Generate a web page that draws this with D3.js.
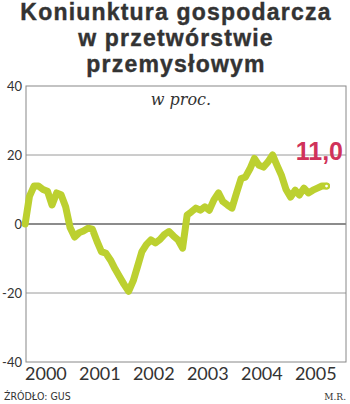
<!DOCTYPE html>
<html>
<head>
<meta charset="utf-8">
<script src="https://cdn.jsdelivr.net/npm/d3@7"></script>
<style>
  body { margin: 0; background: #fff; }
  svg { display: block; }
</style>
</head>
<body>
<div id="chart"></div>
<script>
const width = 350;
const height = 404;
const margin = { left: 26, right: 4, top: 86, bottom: 42 };

const titleLines = ["Koniunktura gospodarcza", "w przetwórstwie", "przemysłowym"];
const yearLabels = [2000, 2001, 2002, 2003, 2004, 2005];
const yTicks = [40, 20, 0, -20, -40];

// monthly readings, Feb 2000 .. Sep 2005
const firstMonth = new Date(2000, 1, 1);
const values = [
  0, 8, 11, 11, 10, 9.5, 5.5, 9, 8.5, 5, -1,
  -3.8, -2.5, -2, -1.2, -1.5, -5, -8, -8.5, -10.5, -13, -15.3, -17.5,
  -19.5, -16.5, -12.5, -8, -6, -4.6, -5.5, -4.5, -3, -2.2, -3.5, -4.6,
  -7, 2.6, 3.5, 4.6, 4, 5, 4, 7, 9, 6.5, 5.5, 4.6,
  9, 13.2, 13.6, 16, 19, 17, 16.5, 18, 20, 17, 14, 10,
  7.8, 9.8, 8.4, 10.4, 9, 9.8, 10.4, 11, 11
];
const lastLabel = "11,0";

const months = d3.timeMonth.range(firstMonth, d3.timeMonth.offset(firstMonth, values.length));
const data = months.map((m, i) => ({ date: d3.timeDay.offset(m, 14), value: values[i] }));

const green = "#bcd030";
const red = "#d0325a";
const ink = "#333";

const svg = d3.select("#chart").append("svg")
  .attr("width", width)
  .attr("height", height);

// title
svg.append("text")
  .attr("x", 176)
  .attr("text-anchor", "middle")
  .attr("font-family", "Liberation Sans, Arial, sans-serif")
  .attr("font-weight", "bold")
  .attr("font-size", 23)
  .attr("letter-spacing", 1.2)
  .attr("fill", ink)
  .attr("stroke", ink)
  .attr("stroke-width", 0.4)
  .selectAll("tspan")
  .data(titleLines)
  .join("tspan")
  .attr("x", 176)
  .attr("y", (d, i) => 19.5 + i * 26)
  .text((d) => d);

const xScale = d3.scaleTime()
  .domain([new Date(2000, 0, 1), new Date(2006, 0, 1)])
  .range([18.5, 342.5]);

const yScale = d3.scaleLinear()
  .domain([-40, 40])
  .range([height - margin.bottom, margin.top]);

const plotW = width - margin.left - margin.right;

// grid
svg.append("g")
  .selectAll("line")
  .data([20, -20])
  .join("line")
  .attr("x1", margin.left)
  .attr("x2", width - margin.right)
  .attr("y1", (d) => yScale(d))
  .attr("y2", (d) => yScale(d))
  .attr("stroke", "#9a9a9a")
  .attr("stroke-width", 1);

svg.append("line")
  .attr("x1", margin.left)
  .attr("x2", width - margin.right)
  .attr("y1", yScale(0))
  .attr("y2", yScale(0))
  .attr("stroke", "#666")
  .attr("stroke-width", 1.4);

svg.append("rect")
  .attr("x", margin.left)
  .attr("y", margin.top)
  .attr("width", plotW)
  .attr("height", yScale(-40) - yScale(40))
  .attr("fill", "none")
  .attr("stroke", "#888")
  .attr("stroke-width", 1);

// y axis labels
const yAxis = d3.axisLeft(yScale)
  .tickValues(yTicks)
  .tickSize(0)
  .tickPadding(4)
  .tickFormat((d) => d);

svg.append("g")
  .attr("transform", `translate(${margin.left}, 0)`)
  .call(yAxis)
  .call((g) => {
    g.select(".domain").remove();
    g.selectAll("text")
      .attr("font-family", "Lato, sans-serif")
      .attr("font-size", 13)
      .attr("fill", ink);
  });

// x axis labels at mid-year
const xAxis = d3.axisBottom(xScale)
  .tickValues(yearLabels.map((y) => new Date(y, 6, 1)))
  .tickSize(0)
  .tickPadding(5)
  .tickFormat(d3.timeFormat("%Y"));

svg.append("g")
  .attr("transform", `translate(0, ${yScale(-40)})`)
  .call(xAxis)
  .call((g) => {
    g.select(".domain").remove();
    g.selectAll("text")
      .attr("font-family", "Lato, sans-serif")
      .attr("font-size", 18)
      .attr("fill", ink);
  });

// series
const line = d3.line()
  .x((d) => xScale(d.date))
  .y((d) => yScale(d.value));

svg.append("path")
  .datum(data)
  .attr("d", line)
  .attr("fill", "none")
  .attr("stroke", green)
  .attr("stroke-width", 7)
  .attr("stroke-linejoin", "round")
  .attr("stroke-linecap", "round");

const last = data[data.length - 1];
svg.append("circle")
  .attr("cx", xScale(last.date))
  .attr("cy", yScale(last.value))
  .attr("r", 2.4)
  .attr("fill", "#fff")
  .attr("stroke", green)
  .attr("stroke-width", 2);

svg.append("text")
  .attr("x", 343)
  .attr("y", 160)
  .attr("text-anchor", "end")
  .attr("font-family", "Liberation Sans, Arial, sans-serif")
  .attr("font-weight", "bold")
  .attr("font-size", 25)
  .attr("fill", red)
  .text(lastLabel);

svg.append("text")
  .attr("x", 181)
  .attr("y", 105)
  .attr("text-anchor", "middle")
  .attr("font-family", "DejaVu Serif, serif")
  .attr("font-style", "italic")
  .attr("font-size", 16)
  .attr("fill", ink)
  .text("w proc.");

// footer
svg.append("text")
  .attr("x", 4)
  .attr("y", 400)
  .attr("font-family", "DejaVu Sans Condensed, sans-serif")
  .attr("font-size", 10.5)
  .attr("fill", ink)
  .text("ŹRÓDŁO: GUS");

svg.append("text")
  .attr("x", 346)
  .attr("y", 400)
  .attr("text-anchor", "end")
  .attr("font-family", "DejaVu Serif Condensed, serif")
  .attr("font-size", 10)
  .attr("fill", ink)
  .text("M.R.");
</script>
</body>
</html>
